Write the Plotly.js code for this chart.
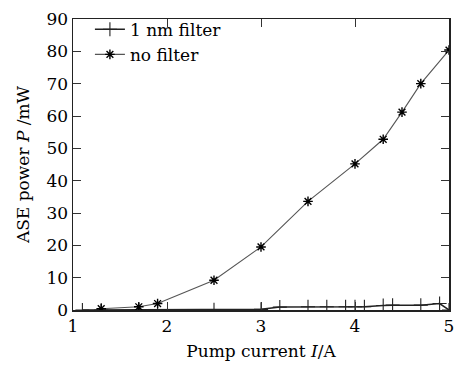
<!DOCTYPE html>
<html>
<head>
<meta charset="utf-8">
<script src="https://cdn.plot.ly/plotly-3.0.1.min.js"></script>
<style>html,body{margin:0;padding:0;background:#fff;}#chart{width:462px;height:367px;}</style>
</head>
<body>
<div id="chart"></div>
<script>
// Pump current (A)
const filterCurrent = [1.1, 1.3, 1.7, 1.9, 2.5, 3.0, 3.2, 3.5, 3.7, 3.9, 4.0, 4.1, 4.3, 4.4, 4.7, 4.9, 5.0];
// ASE power (mW) with 1 nm filter
const filterPower = [0, 0, 0, 0, 0.1, 0.2, 0.9, 1.0, 1.0, 1.0, 1.0, 1.0, 1.4, 1.5, 1.5, 2.0, 0];

const noFilterCurrent = [1.3, 1.7, 1.9, 2.5, 3.0, 3.5, 4.0, 4.3, 4.5, 4.7, 5.0];
const noFilterPower = [0.4, 1.0, 2.0, 9.2, 19.5, 33.6, 45.2, 52.8, 61.2, 70.0, 80.4];

const seriesNames = ["1 nm filter", "no filter"];

const font = "'DejaVu Serif', 'Liberation Serif', serif";

const traces = [
  {
    x: filterCurrent, y: filterPower, name: seriesNames[0],
    type: "scatter", mode: "lines+markers",
    line: {color: "#222", width: 1.5},
    marker: {symbol: "cross-thin-open", size: 10, color: "#222", line: {width: 1.1, color: "#222"}}
  },
  {
    x: noFilterCurrent, y: noFilterPower, name: seriesNames[1],
    type: "scatter", mode: "lines+markers",
    line: {color: "#555", width: 1.1},
    marker: {symbol: "asterisk-open", size: 8, color: "#000", line: {width: 1.4, color: "#000"}}
  }
];

const layout = {
  width: 462, height: 367,
  margin: {l: 73, r: 13, t: 16, b: 57},
  paper_bgcolor: "#fff", plot_bgcolor: "#fff",
  font: {family: font, size: 17, color: "#000"},
  showlegend: true,
  legend: {x: 0.045, y: 1.025, xanchor: "left", yanchor: "top", bgcolor: "rgba(0,0,0,0)",
           font: {family: font, size: 17, color: "#000"}, tracegroupgap: 0},
  xaxis: {
    range: [1, 5], dtick: 1, tick0: 1,
    ticks: "inside", ticklen: 8, tickwidth: 1, tickcolor: "#333",
    mirror: "allticks", showline: true, linecolor: "#222", linewidth: 1.5,
    showgrid: false, zeroline: false,
    tickfont: {family: font, size: 17, color: "#000"},
    title: {text: "Pump current <i>I</i>/A", font: {family: font, size: 17, color: "#000"}, standoff: 10}
  },
  yaxis: {
    range: [0, 90], dtick: 10, tick0: 0,
    ticks: "inside", ticklen: 8, tickwidth: 1, tickcolor: "#333",
    mirror: "allticks", showline: true, linecolor: "#222", linewidth: 1.5,
    showgrid: false, zeroline: false,
    tickfont: {family: font, size: 17, color: "#000"},
    title: {text: "ASE power <i>P</i> /mW", font: {family: font, size: 17, color: "#000"}, standoff: 12}
  }
};

Plotly.newPlot("chart", traces, layout, {displayModeBar: false, staticPlot: true});
</script>
</body>
</html>
